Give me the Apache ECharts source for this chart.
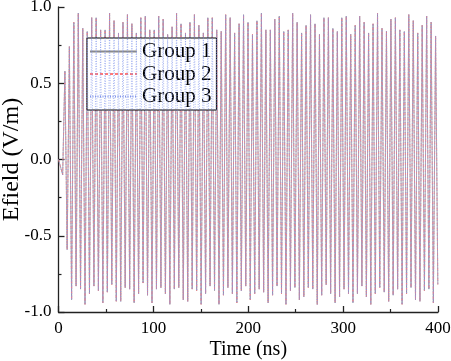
<!DOCTYPE html>
<html>
<head>
<meta charset="utf-8">
<script src="https://cdn.jsdelivr.net/npm/echarts@6/dist/echarts.min.js"></script>
<style>
html,body{margin:0;padding:0;background:#fff;}
#chart{width:451px;height:361px;}
</style>
</head>
<body>
<div id="chart"></div>
<script>
// Axis ticks
const xTicks = [0, 100, 200, 300, 400];
const yTicks = [-1.0, -0.5, 0.0, 0.5, 1.0];
const seriesNames = ['Group 1', 'Group 2', 'Group 3'];

// Signal onset (ns, V/m)
const onsetTimes = [0];
const onsetValues = [0];

const firstExtremumTime = 4.4;
const halfPeriod = 2.3536;
const group1Values = [
  -0.10, 0.58, -0.59,
  0.74, -0.92, 0.90, -0.83, 0.96, -0.85, 0.86, -0.95, 0.84, -0.88, 0.93, -0.83, 0.93, -0.86, 0.85, -0.94,
  0.85, -0.87, 0.96, -0.82, 0.91, -0.93, 0.83, -0.93, 0.90, -0.84, 0.95, -0.85, 0.89, -0.94, 0.83, -0.88,
  0.93, -0.81, 0.94, -0.89, 0.85, -0.94, 0.85, -0.85, 0.94, -0.84, 0.92, -0.88, 0.82, -0.95, 0.87, -0.85,
  0.96, -0.84, 0.89, -0.92, 0.83, -0.93, 0.90, -0.85, 0.95, -0.86, 0.88, -0.95, 0.83, -0.88, 0.93, -0.83,
  0.93, -0.86, 0.85, -0.95, 0.84, -0.89, 0.95, -0.84, 0.93, -0.88, 0.83, -0.94, 0.89, -0.86, 0.95, -0.83,
  0.90, -0.92, 0.82, -0.88, 0.91, -0.85, 0.96, -0.87, 0.85, -0.94, 0.85, -0.89, 0.92, -0.83, 0.94, -0.88,
  0.84, -0.95, 0.85, -0.86, 0.96, -0.84, 0.90, -0.92, 0.83, -0.90, 0.88, -0.84, 0.95, -0.85, 0.89, -0.95,
  0.82, -0.89, 0.93, -0.82, 0.93, -0.88, 0.86, -0.94, 0.84, -0.90, 0.93, -0.85, 0.94, -0.88, 0.82, -0.94,
  0.88, -0.88, 0.94, -0.83, 0.90, -0.90, 0.83, -0.95, 0.89, -0.88, 0.96, -0.84, 0.86, -0.87, 0.84, -0.93,
  0.92, -0.89, 0.93, -0.85, 0.85, -0.95, 0.84, -0.88, 0.95, -0.84, 0.91, -0.92, 0.83, -0.93, 0.88, -0.86,
  0.94, -0.85, 0.90, -0.94, 0.81, -0.82
];
// The three traces coincide in the picture
const group2Values = group1Values.slice();
const group3Values = group1Values.slice();

function buildData(values) {
  const out = onsetTimes.map((t, i) => [t, onsetValues[i]]);
  values.forEach((v, i) => out.push([firstExtremumTime + i * halfPeriod, v]));
  return out;
}

const serif = 'Liberation Serif, Times New Roman, serif';
const chart = echarts.init(document.getElementById('chart'), null, {renderer: 'canvas'});
const lineStyles = [
  {color: '#8a8a8a', width: 0.7, type: 'solid'},
  {color: '#ff7878', width: 0.7, type: [3, 2]},
  {color: '#8296ec', width: 0.7, type: [1, 1.5]}
];
const allValues = [group1Values, group2Values, group3Values];

chart.setOption({
  animation: false,
  backgroundColor: '#fff',
  grid: {left: 58.5, right: 13, top: 7, bottom: 49, containLabel: false, outerBoundsMode: 'none'},
  legend: {
    data: seriesNames,
    orient: 'vertical',
    left: 87, top: 38,
    padding: [3, 5, 3, 2],
    itemWidth: 47, itemHeight: 14, itemGap: 1.5,
    backgroundColor: '#fff',
    borderColor: '#000', borderWidth: 1,
    itemStyle: {opacity: 0, borderWidth: 0},
    textStyle: {fontFamily: serif, fontSize: 21, color: '#000'}
  },
  xAxis: {
    type: 'value', min: xTicks[0], max: xTicks[xTicks.length - 1], interval: 100,
    name: 'Time (ns)', nameLocation: 'middle', nameGap: 28, nameMoveOverlap: false,
    nameTextStyle: {fontFamily: serif, fontSize: 20, color: '#000'},
    axisLine: {onZero: false, lineStyle: {color: '#222', width: 1.3}},
    axisTick: {inside: true, length: 6, lineStyle: {color: '#222', width: 1.3}},
    minorTick: {show: true, splitNumber: 2, length: 3, lineStyle: {color: '#222', width: 1.2}},
    splitLine: {show: false},
    axisLabel: {fontFamily: serif, fontSize: 17, color: '#000', margin: 8}
  },
  yAxis: {
    type: 'value', min: yTicks[0], max: yTicks[yTicks.length - 1], interval: 0.5,
    name: 'Efield (V/m)', nameLocation: 'middle', nameGap: 35, nameMoveOverlap: false,
    nameTextStyle: {fontFamily: serif, fontSize: 24, color: '#000'},
    axisLine: {onZero: false, lineStyle: {color: '#222', width: 1.3}},
    axisTick: {inside: true, length: 6, lineStyle: {color: '#222', width: 1.3}},
    minorTick: {show: true, splitNumber: 2, length: 3, lineStyle: {color: '#222', width: 1.2}},
    splitLine: {show: false},
    axisLabel: {fontFamily: serif, fontSize: 17, color: '#000', margin: 7, formatter: v => v.toFixed(1)}
  },
  series: seriesNames.map((name, i) => ({
    name: name, type: 'line', symbol: 'none', showSymbol: false,
    data: buildData(allValues[i]),
    lineStyle: lineStyles[i],
    itemStyle: {color: lineStyles[i].color},
    z: 2 + i
  }))
});
</script>
</body>
</html>
